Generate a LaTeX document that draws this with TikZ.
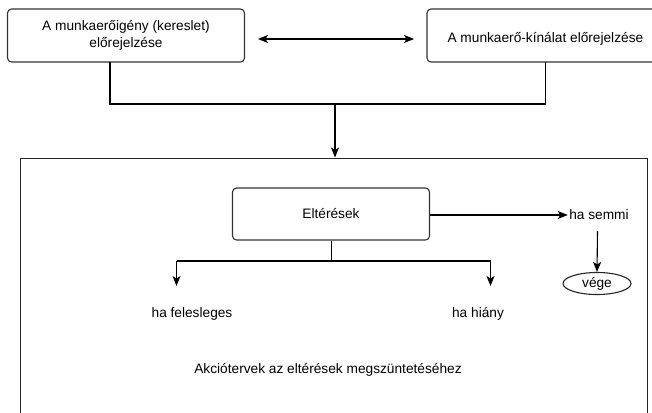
\documentclass[tikz,border=0pt]{standalone}
\usepackage{fontspec}
\setmainfont{Liberation Sans}
\usetikzlibrary{arrows.meta,shapes.geometric}
\begin{document}
\begin{tikzpicture}[x=1pt,y=-1pt,
  font=\fontsize{13.7}{17}\selectfont,
  line width=1.1pt,
  box/.style={draw=black!80, rounded corners=4pt, minimum height=53pt, inner sep=0pt, align=center},
  tip/.tip={Stealth[length=10pt,width=8pt,inset=2.5pt]},
  arr/.style={-tip},
  plain/.style={inner sep=1pt}]
  \useasboundingbox (0,0) rectangle (652,412);
  \fill[white] (0,0) rectangle (652,412);

  % forecast boxes and the two-way link
  \node[box, minimum width=237pt] (dem) at (126,35.5) {A munkaerőigény (kereslet)\\előrejelzése};
  \node[box, minimum width=240pt] (sup) at (547,35.5) {};
  \node[plain, anchor=west] (suptext) at (446,39) {A munkaerő-kínálat előrejelzése};
  \draw[tip-tip] (258,39) coordinate (la) -- (414,39) coordinate (lb);

  % merge into the action area
  \coordinate (jl) at (110,104);
  \coordinate (jr) at (545.5,104);
  \coordinate (jm) at (335,104);
  \draw (110,62) -- (jl) -- (jr) -- (545.5,62);
  \node[draw=black!85, minimum width=627pt, minimum height=300pt, inner sep=0pt, anchor=north west] (area) at (20,157.5) {};
  \draw[arr] (jm) -- (jm |- area.north);

  % deviations and branches
  \node[box, minimum width=197pt, minimum height=52pt] (elt) at (331,214) {Eltérések};
  \node[plain] (semmi) at (599,215) {ha semmi};
  \draw[arr] (elt.east |- semmi) -- (semmi.west);
  \node[draw=black!85, ellipse, minimum width=68pt, minimum height=22pt, inner sep=0pt] (vege) at (597,283.5) {vége};
  \draw[arr] (597.5,231) -- (vege.north);

  \coordinate (bm) at (331.5,261);
  \coordinate (bl) at (176.5,261);
  \coordinate (br) at (490.5,261);
  \draw (elt.south -| bm) -- (bm);
  \draw (bl) -- (br);
  \draw[arr] (bl) -- (176.5,286);
  \draw[arr] (br) -- (490.5,286);

  \node[plain] (fel) at (192,314) {ha felesleges};
  \node[plain] (hiany) at (478,314) {ha hiány};
  \node[plain] (akc) at (328,370) {Akciótervek az eltérések megszüntetéséhez};
\end{tikzpicture}
\end{document}
